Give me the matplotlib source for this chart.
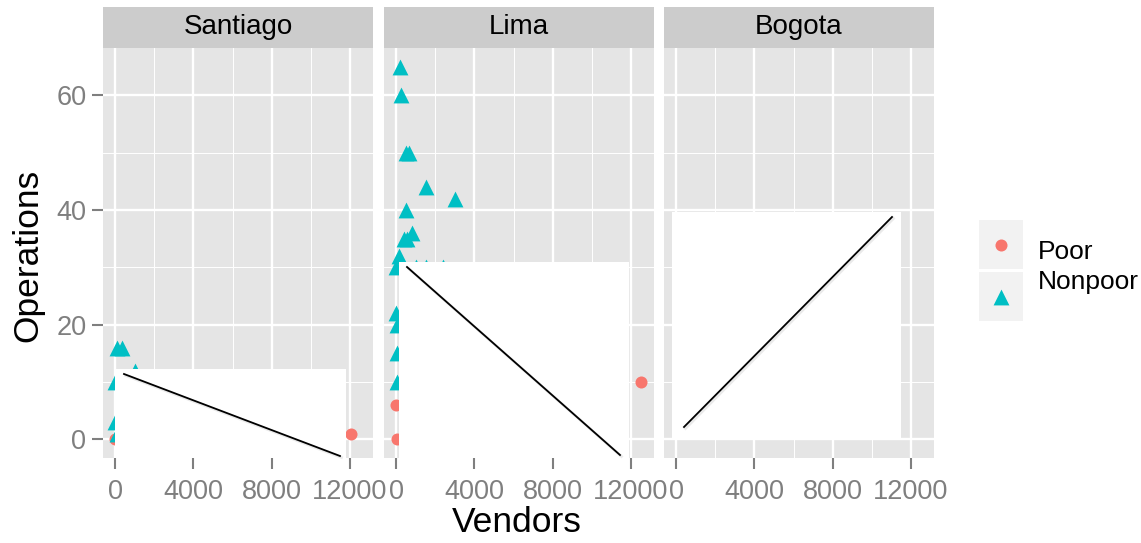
import numpy as np
import matplotlib.pyplot as plt
from matplotlib.patches import Rectangle
from matplotlib.lines import Line2D

plt.rcParams['font.family'] = ['Liberation Sans', 'DejaVu Sans']

# data
cities = ['Santiago', 'Lima', 'Bogota']

santiago_poor_vendors = [0, 12060]
santiago_poor_ops = [0, 1]
santiago_nonpoor_vendors = [100, 350, 1000, 0, 0, 100]
santiago_nonpoor_ops = [16, 16, 12, 10, 3, 1]

lima_poor_vendors = [0, 50, 12515]
lima_poor_ops = [6, 0, 10]
lima_nonpoor_vendors = [200, 250, 500, 650, 1530, 3000, 500, 400, 550, 800,
                        150, 0, 1000, 1530, 2400, 0, 50, 50, 50]
lima_nonpoor_ops = [65, 60, 50, 50, 44, 42, 40, 35, 35, 36,
                    32, 30, 30, 30, 30, 22, 20, 15, 10]

bogota_poor_vendors = []
bogota_poor_ops = []
bogota_nonpoor_vendors = []
bogota_nonpoor_ops = []

poor = [(santiago_poor_vendors, santiago_poor_ops),
        (lima_poor_vendors, lima_poor_ops),
        (bogota_poor_vendors, bogota_poor_ops)]
nonpoor = [(santiago_nonpoor_vendors, santiago_nonpoor_ops),
           (lima_nonpoor_vendors, lima_nonpoor_ops),
           (bogota_nonpoor_vendors, bogota_nonpoor_ops)]

groups = ['Poor', 'Nonpoor']
colors = ['#F8766D', '#00BFC4']
markers = ['o', '^']
sizes = [75, 130]

W, H = 1141, 543
fig = plt.figure(figsize=(W / 100, H / 100), dpi=100)

def fx(x):
    return x / W

def fy(y):
    return 1 - y / H

grey = '#7F7F7F'
panel_lefts = [103, 384, 664]
for i, city in enumerate(cities):
    ax = fig.add_axes([fx(panel_lefts[i]), fy(458), 270 / W, 410 / H])
    ax.set_facecolor('#E5E5E5')
    ax.set_xlim(-628, 13188)
    ax.set_ylim(-3.25, 68.25)
    ax.set_xticks([0, 4000, 8000, 12000])
    ax.set_xticks([2000, 6000, 10000], minor=True)
    ax.set_yticks([0, 20, 40, 60])
    ax.set_yticks([10, 30, 50], minor=True)
    ax.grid(which='major', color='white', lw=1.7)
    ax.grid(which='minor', color='white', lw=0.7)
    ax.set_axisbelow(True)
    for s in ax.spines.values():
        s.set_visible(False)
    ax.tick_params(which='minor', length=0)
    ax.tick_params(which='major', length=8, width=1.5, color=grey,
                   labelcolor=grey, labelsize=19.5, pad=4)
    ax.tick_params(axis='x', pad=7)
    if i > 0:
        ax.tick_params(axis='y', left=False, labelleft=False)

    ax.scatter(poor[i][0], poor[i][1], marker=markers[0], s=sizes[0],
               color=colors[0], linewidths=0, zorder=3)
    ax.scatter(nonpoor[i][0], nonpoor[i][1], marker=markers[1], s=sizes[1],
               color=colors[1], linewidths=0, zorder=3)

    # facet strip
    ax.add_patch(Rectangle((0, 1), 1, 41 / 410, transform=ax.transAxes,
                           facecolor='#CCCCCC', edgecolor='none', clip_on=False))
    ax.text(0.5, 1 + 20.5 / 410, city, transform=ax.transAxes, ha='center',
            va='center', fontsize=20, color='black')

fig.text(fx(28), fy(255), 'Operations', rotation=90, ha='center', va='center',
         fontsize=25.5)
fig.text(fx(517), fy(523), 'Vendors', ha='center', va='center', fontsize=25.5)

# white overlay boxes with a diagonal line
boxes = [(114.7, 369, 346, 458), (399, 262, 629, 458), (672, 212, 901, 438)]
lines = [((124, 374), (340, 456)), ((407, 267), (620, 455)), ((684, 427), (892, 217))]
for (x0, y0, x1, y1), ((lx0, ly0), (lx1, ly1)) in zip(boxes, lines):
    fig.add_artist(Rectangle((fx(x0), fy(y1)), (x1 - x0) / W, (y1 - y0) / H,
                             transform=fig.transFigure, facecolor='white',
                             edgecolor='none', zorder=5))
    fig.add_artist(Line2D([fx(lx0 + 1.5), fx(lx1 + 1.5)], [fy(ly0 + 1.5), fy(ly1 + 1.5)],
                          transform=fig.transFigure, color='#CCCCCC', lw=2.0,
                          alpha=0.4, zorder=6))
    fig.add_artist(Line2D([fx(lx0), fx(lx1)], [fy(ly0), fy(ly1)],
                          transform=fig.transFigure, color='black', lw=1.3,
                          zorder=7))

# legend
lax = fig.add_axes([0, 0, 1, 1], zorder=8)
lax.set_xlim(0, W)
lax.set_ylim(H, 0)
lax.axis('off')
key_tops = [220, 272]
text_ys = [252, 282]
for k in range(2):
    lax.add_patch(Rectangle((979, key_tops[k]), 44, 49, facecolor='#F2F2F2',
                            edgecolor='none'))
    lax.scatter([1001], [key_tops[k] + 25], marker=markers[k], s=sizes[k],
                color=colors[k], linewidths=0)
    lax.text(1038, text_ys[k], groups[k], ha='left', va='center', fontsize=19)

fig.savefig('out.png', dpi=100)
